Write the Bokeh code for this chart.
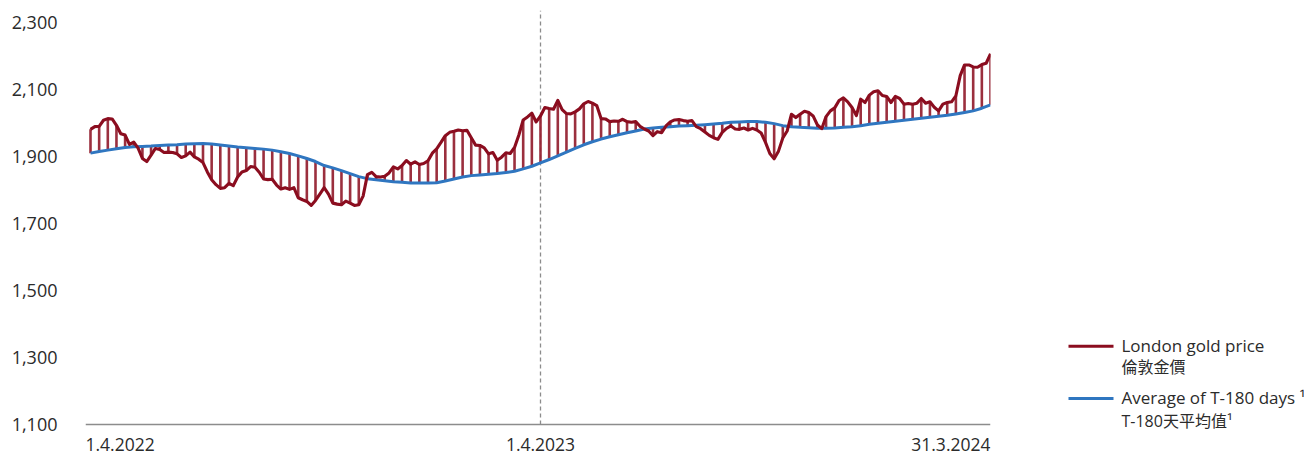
import numpy as np
from bokeh.plotting import figure
from bokeh.models import Range1d, FixedTicker, NumeralTickFormatter, Span, ColumnDataSource
from bokeh.layouts import row
from bokeh.embed import file_html
from bokeh.resources import INLINE
from bokeh.core.properties import value

# ---------------- data ----------------
PERIOD_DAYS = 730  # 1.4.2022 .. 31.3.2024

# London gold price, sampled every ~3.5 days (209 samples)
gold_price = [
    1980, 1988, 1989, 2007, 2012, 2011, 1992, 1967, 1963, 1935,
    1942, 1924, 1893, 1884, 1903, 1923, 1920, 1911, 1912, 1911,
    1907, 1896, 1901, 1912, 1898, 1891, 1881, 1853, 1830, 1815,
    1804, 1806, 1819, 1812, 1838, 1853, 1857, 1869, 1867, 1852,
    1832, 1830, 1831, 1814, 1802, 1806, 1801, 1806, 1776, 1770,
    1765, 1753, 1768, 1787, 1806, 1787, 1760, 1757, 1755, 1766,
    1760, 1753, 1755, 1781, 1845, 1852, 1839, 1838, 1840, 1850,
    1868, 1862, 1872, 1887, 1876, 1883, 1875, 1878, 1886, 1909,
    1922, 1941, 1961, 1971, 1974, 1978, 1976, 1977, 1955, 1933,
    1932, 1925, 1907, 1911, 1888, 1897, 1910, 1908, 1926, 1963,
    2008, 2017, 2028, 2002, 2020, 2045, 2042, 2040, 2066, 2039,
    2027, 2026, 2032, 2041, 2056, 2063, 2058, 2051, 2012, 2011,
    2003, 2005, 2004, 2010, 2003, 2001, 2003, 1989, 1981, 1975,
    1961, 1973, 1970, 1990, 2002, 2008, 2009, 2006, 2004, 2006,
    1988, 1982, 1972, 1962, 1955, 1950, 1971, 1983, 1990, 1981,
    1980, 1984, 1978, 1983, 1978, 1969, 1941, 1908, 1892, 1915,
    1954, 1975, 2025, 2015, 2025, 2034, 2030, 2020, 1993, 1982,
    2018, 2035, 2044, 2066, 2074, 2062, 2045, 2021, 2070, 2060,
    2082, 2092, 2095, 2081, 2078, 2060, 2078, 2072, 2055, 2057,
    2055, 2058, 2072, 2058, 2062, 2046, 2035, 2055, 2060, 2062,
    2080, 2140, 2172, 2172, 2166, 2165, 2173, 2177, 2205,
]

# Average of T-180 days, weekly (105 samples, every 2nd price sample)
avg_t180 = [
    1909, 1914, 1918, 1922, 1926, 1928, 1929, 1930, 1932, 1933,
    1934, 1936, 1937, 1938, 1936, 1933, 1930, 1927, 1925, 1923,
    1921, 1918, 1913, 1908, 1901, 1893, 1884, 1872, 1865, 1857,
    1848, 1839, 1833, 1830, 1827, 1824, 1822, 1820, 1820, 1820,
    1821, 1826, 1832, 1838, 1842, 1844, 1846, 1848, 1851, 1855,
    1862, 1870, 1880, 1890, 1901, 1912, 1923, 1934, 1943, 1951,
    1958, 1964, 1970, 1975, 1981, 1984, 1986, 1988, 1990, 1991,
    1992, 1994, 1996, 1998, 2001, 2002, 2003, 2003, 2001, 1997,
    1991, 1988, 1986, 1985, 1983, 1983, 1984, 1986, 1988, 1991,
    1995, 1998, 2001, 2004, 2007, 2010, 2013, 2016, 2019, 2022,
    2026, 2030, 2035, 2043, 2053,
]

x_tick_days = [0, 365, 730]
x_tick_labels = ["1.4.2022", "1.4.2023", "31.3.2024"]
x_tick_align = ["left", "center", "right"]
y_ticks = [1100, 1300, 1500, 1700, 1900, 2100, 2300]
legend_latin = ["London gold price", "Average of T-180 days ¹"]
legend_cjk = ["倫敦金價", "T-180天平均值¹"]

# ---------------- styling ----------------
RED = "#8B0D1F"
BAR = "#962434"
BLUE = "#2F76C0"
GREY = "#8C8C8C"
TXT = "#2B2B2B"
FONT = "Open Sans"

price = np.array(gold_price, dtype=float)
avg = np.array(avg_t180, dtype=float)
price_x = np.linspace(0, PERIOD_DAYS, len(price))
avg_x = np.linspace(0, PERIOD_DAYS, len(avg))
step = (len(price) - 1) // (len(avg) - 1)
bar_top = price[::step]

# frame geometry (pixels): frame x 85..990 ; y 10..456, value 1100 at 424, 2300 at 21.5
PX_PER_DAY = 900.0 / PERIOD_DAYS
UNITS_PER_PX = 1200.0 / 402.5
x_start = -5 / PX_PER_DAY
y_base = y_ticks[0]
y_top = y_ticks[-1] + 11.5 * UNITS_PER_PX
y_bot = y_base - 32 * UNITS_PER_PX
y_lab = y_base - 19.5 * UNITS_PER_PX

p = figure(width=995, height=456, output_backend="svg", toolbar_location=None,
           x_range=Range1d(x_start, PERIOD_DAYS), y_range=Range1d(y_bot, y_top),
           x_axis_location=None,
           min_border_left=85, min_border_right=5, min_border_top=10, min_border_bottom=0)
p.grid.visible = False
p.outline_line_color = None

p.yaxis.ticker = FixedTicker(ticks=y_ticks)
p.yaxis.formatter = NumeralTickFormatter(format="0,0")
p.yaxis.axis_line_color = None
p.yaxis.major_tick_line_color = None
p.yaxis.minor_tick_line_color = None
p.yaxis.major_tick_out = 0
p.yaxis.major_tick_in = 0
p.yaxis.minor_tick_out = 0
p.yaxis.major_label_standoff = 28
p.yaxis.major_label_text_font = FONT
p.yaxis.major_label_text_font_size = "18px"
p.yaxis.major_label_text_color = TXT

# x axis base line
p.add_layout(Span(location=y_base, dimension="width", line_color=GREY, line_width=1.3))
# dashed year divider
p.segment(x0=[x_tick_days[1]], y0=[y_base], x1=[x_tick_days[1]], y1=[y_top],
          line_color=GREY, line_width=1.3, line_dash="4 3")

p.segment(x0=avg_x, y0=avg, x1=avg_x, y1=bar_top, line_color=BAR, line_width=2.6, line_alpha=0.95)
p.line(avg_x, avg, line_color=BLUE, line_width=3.0)
p.line(price_x, price, line_color=RED, line_width=3.1, line_join="round")

for d, t, a in zip(x_tick_days, x_tick_labels, x_tick_align):
    xd = x_start if a == "left" else d
    p.text(x=[xd], y=[y_lab], text=[t], text_align=a, text_baseline="middle",
           text_font=value(FONT), text_font_size=value("17.5px"), text_color=TXT)

# ---------------- legend panel ----------------
LW = 309
leg = figure(width=LW, height=456, output_backend="svg", toolbar_location=None,
             x_range=Range1d(0, LW), y_range=Range1d(456, 0),
             x_axis_location=None, y_axis_location=None, min_border=0)
leg.grid.visible = False
leg.outline_line_color = None

leg.segment(x0=[73, 73], y0=[343.3, 396.7], x1=[118, 118], y1=[343.3, 396.7],
            line_color=[RED, BLUE], line_width=3)

src_l = ColumnDataSource(dict(x=[126, 126], y=[342.7, 396], t=legend_latin))
src_c = ColumnDataSource(dict(x=[126, 126], y=[365, 419.3], t=legend_cjk))
leg.text(x="x", y="y", text="t", source=src_l, text_font=value(FONT),
         text_font_size=value("17px"), text_baseline="middle", text_color=TXT)
leg.text(x="x", y="y", text="t", source=src_c, text_font=value("Open Sans, Noto Sans CJK TC"),
         text_font_size=value("16px"), text_baseline="middle", text_color=TXT)

open("out.html", "w").write(file_html(row(p, leg), INLINE))
